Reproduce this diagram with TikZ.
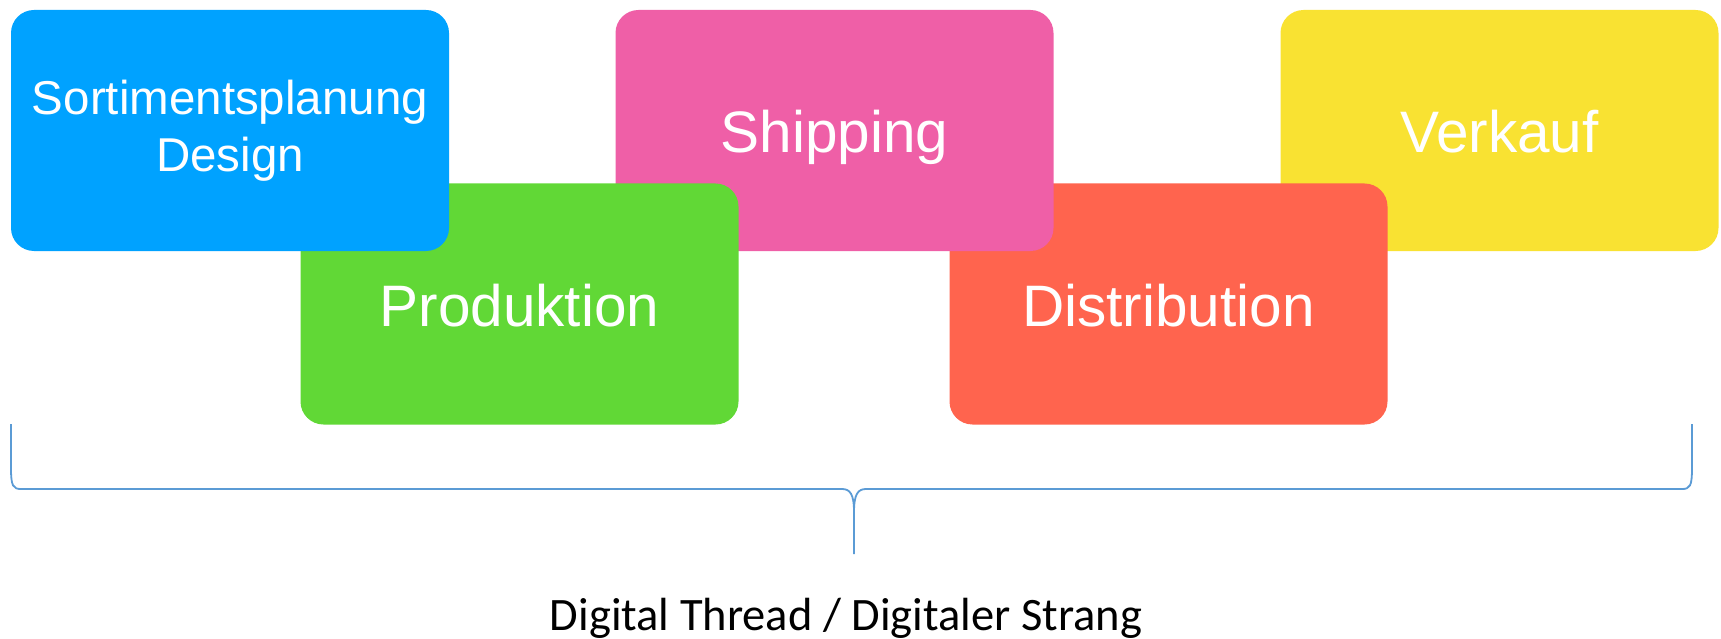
\documentclass[tikz,border=0pt]{standalone}
\usepackage{fontspec}
\setmainfont{Liberation Sans}
\newfontfamily\calib{Carlito}
\definecolor{kblue}{HTML}{00A2FF}
\definecolor{kgreen}{HTML}{61D836}
\definecolor{kpink}{HTML}{EF5FA7}
\definecolor{kred}{HTML}{FF644E}
\definecolor{kyellow}{HTML}{F9E232}
\definecolor{brace}{HTML}{5B9BD5}
\tikzset{
  card/.style={rounded corners=23pt, inner sep=0pt, minimum width=438pt, minimum height=241pt,
    text=white, align=center, font=\fontsize{47.5}{57}\selectfont},
  bigcard/.style={card, font=\fontsize{58.5}{64}\selectfont, text height=44pt, text depth=0pt},
}
\begin{document}
\begin{tikzpicture}[x=1pt,y=-1pt]
\useasboundingbox (0,0) rectangle (1721,639);
\node[bigcard, fill=kyellow] (verkauf) at (1499.5,130.5) {Verkauf};
\node[bigcard, fill=kred] (distribution) at (1168.5,304) {Distribution};
\node[bigcard, fill=kpink] (shipping) at (834.5,130.5) {Shipping};
\node[bigcard, fill=kgreen] (produktion) at (519.5,304) {Produktion};
\node[card, fill=kblue] (sortiment) at (230,130.5) {Sortimentsplanung\\Design};
\coordinate (bl) at (11,424);
\coordinate (br) at (1692,424);
\coordinate (tip) at (854,554);
\draw[brace, line width=1.8pt]
  (bl) -- (11,468) .. controls (11,486) and (13,489) .. (21,489)
  -- (842,489) .. controls (850,489) and (854,494) .. (854,512)
  -- (tip);
\draw[brace, line width=1.8pt]
  (br) -- (1692,468) .. controls (1692,486) and (1690,489) .. (1682,489)
  -- (866,489) .. controls (858,489) and (854,494) .. (854,512);
\node[font=\calib\fontsize{46.5}{50}\selectfont, anchor=base] (label) at (846,630) {Digital Thread / Digitaler Strang};
\end{tikzpicture}
\end{document}
